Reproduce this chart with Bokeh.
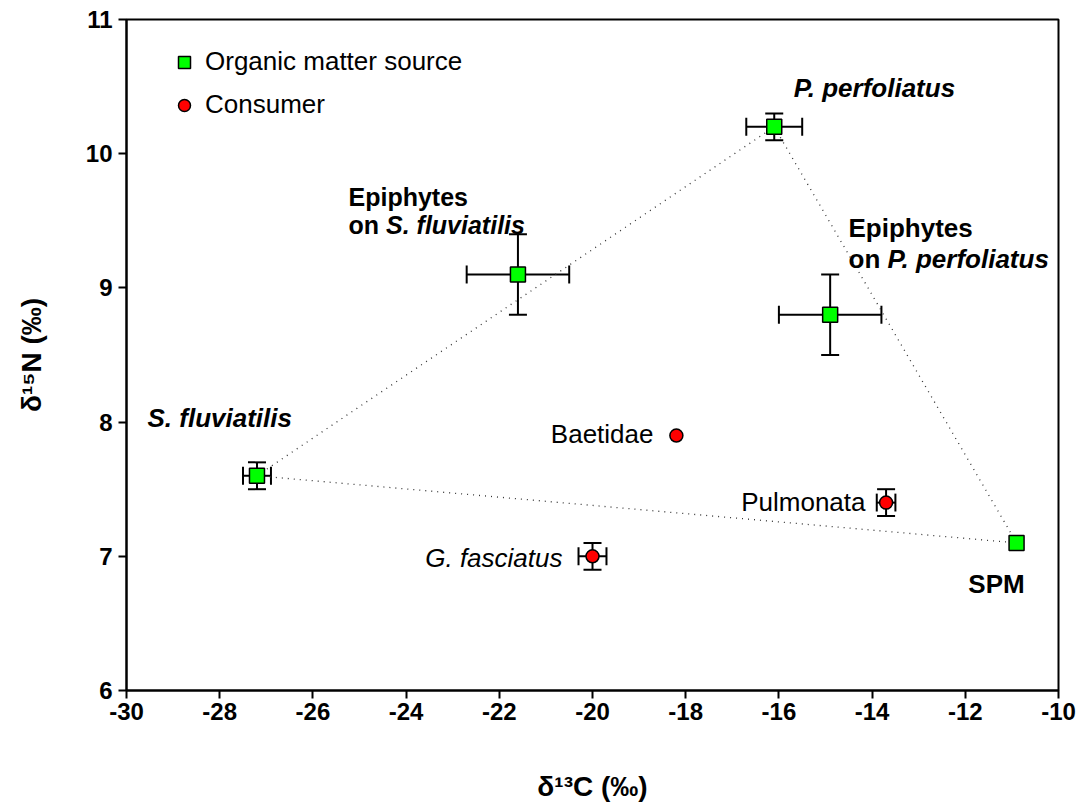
from bokeh.plotting import figure
from bokeh.models import (ColumnDataSource, Whisker, TeeHead, Label, Legend, LegendItem,
                          FixedTicker, Range1d)
from bokeh.embed import file_html
from bokeh.resources import INLINE

# ---------------- data ----------------
source_names = ["P. perfoliatus", "Epiphytes on S. fluviatilis", "Epiphytes on P. perfoliatus",
                "S. fluviatilis", "SPM"]
source_d13C = [-16.1, -21.6, -14.9, -27.2, -10.9]
source_d13C_sd = [0.6, 1.1, 1.1, 0.3, 0.0]
source_d15N = [10.2, 9.1, 8.8, 7.6, 7.1]
source_d15N_sd = [0.1, 0.3, 0.3, 0.1, 0.0]

consumer_names = ["Baetidae", "Pulmonata", "G. fasciatus"]
consumer_d13C = [-18.2, -13.7, -20.0]
consumer_d13C_sd = [0.0, 0.2, 0.3]
consumer_d15N = [7.9, 7.4, 7.0]
consumer_d15N_sd = [0.0, 0.1, 0.1]

# mixing polygon (dotted) through these sources
polygon_names = ["S. fluviatilis", "P. perfoliatus", "SPM", "S. fluviatilis"]

x_ticks = [-30, -28, -26, -24, -22, -20, -18, -16, -14, -12, -10]
x_tick_labels = ["-30", "-28", "-26", "-24", "-22", "-20", "-18", "-16", "-14", "-12", "-10"]
y_ticks = [6, 7, 8, 9, 10, 11]
y_tick_labels = ["6", "7", "8", "9", "10", "11"]

x_title = "δ¹³C (‰)"
y_title = "δ¹⁵N (‰)"

FONT = "Liberation Sans"

p = figure(width=1076, height=804, output_backend="svg", toolbar_location=None,
           x_range=Range1d(-30, -10), y_range=Range1d(6, 11),
           min_border_left=126, min_border_right=18, min_border_top=19, min_border_bottom=114)
p.background_fill_color = "white"
p.border_fill_color = "white"
p.grid.visible = False
p.outline_line_color = "black"
p.outline_line_width = 2

for ax in (p.xaxis[0], p.yaxis[0]):
    ax.axis_line_width = 2
    ax.axis_line_color = "black"
    ax.major_tick_line_width = 2
    ax.major_tick_out = 8
    ax.major_tick_in = 0
    ax.minor_tick_line_color = None
    ax.major_label_text_font = FONT
    ax.major_label_text_font_size = "24px"
    ax.major_label_text_font_style = "bold"
    ax.major_label_text_color = "black"
    ax.axis_label_text_font = FONT
    ax.axis_label_text_font_size = "28px"
    ax.axis_label_text_font_style = "bold"
    ax.axis_label_text_color = "black"
p.xaxis.ticker = FixedTicker(ticks=x_ticks)
p.yaxis.ticker = FixedTicker(ticks=y_ticks)
p.xaxis.major_label_overrides = {t: l for t, l in zip(x_ticks, x_tick_labels)}
p.yaxis.major_label_overrides = {t: l for t, l in zip(y_ticks, y_tick_labels)}
p.xaxis.major_label_standoff = 4
p.yaxis.major_label_standoff = 6
p.xaxis.axis_label = x_title
p.yaxis.axis_label = y_title
p.xaxis.axis_label_standoff = 48
p.yaxis.axis_label_standoff = 36

# dotted polygon
idx = [source_names.index(n) for n in polygon_names]
p.line([source_d13C[i] for i in idx], [source_d15N[i] for i in idx],
       line_color="#333333", line_width=1.3, line_dash="1 5")

# error bars
def add_errors(xs, ys, xsd, ysd):
    xb = [(x, y, s) for x, y, s in zip(xs, ys, xsd) if s > 0]
    yb = [(x, y, s) for x, y, s in zip(xs, ys, ysd) if s > 0]
    sx = ColumnDataSource(dict(base=[b[1] for b in xb], lo=[b[0] - b[2] for b in xb],
                               hi=[b[0] + b[2] for b in xb]))
    sy = ColumnDataSource(dict(base=[b[0] for b in yb], lo=[b[1] - b[2] for b in yb],
                               hi=[b[1] + b[2] for b in yb]))
    for src, dim in ((sx, "width"), (sy, "height")):
        w = Whisker(source=src, base="base", lower="lo", upper="hi", dimension=dim,
                    line_width=2, line_color="black", level="underlay",
                    upper_head=TeeHead(size=18, line_width=2, line_color="black"),
                    lower_head=TeeHead(size=18, line_width=2, line_color="black"))
        p.add_layout(w)

add_errors(source_d13C, source_d15N, source_d13C_sd, source_d15N_sd)
add_errors(consumer_d13C, consumer_d15N, consumer_d13C_sd, consumer_d15N_sd)

r_src = p.scatter(source_d13C, source_d15N, marker="square", size=15,
                  fill_color="#00ff00", line_color="black", line_width=1.5)
r_con = p.scatter(consumer_d13C, consumer_d15N, marker="circle", size=13,
                  fill_color="#ff0000", line_color="black", line_width=1.5)

legend = Legend(items=[LegendItem(label="Organic matter source", renderers=[r_src]),
                       LegendItem(label="Consumer", renderers=[r_con])],
                location=(33, 560), glyph_width=30, glyph_height=30, label_height=30,
                label_standoff=6, spacing=12, padding=10, margin=0,
                border_line_alpha=0, background_fill_alpha=0,
                label_text_font=FONT, label_text_font_size="26px",
                label_text_color="black")
p.add_layout(legend)

# point annotations: (text, x, y, style, align, x_offset, size)
annotations = [
    ("P. perfoliatus", -13.95, 10.486, "bold italic", "center", 0, "26px"),
    ("Epiphytes", -25.236, 9.68, "bold", "left", 0, "25px"),
    ("on ", -25.236, 9.465, "bold", "left", 0, "25px"),
    ("S. fluviatilis", -25.236, 9.465, "bold italic", "left", 37.5, "25px"),
    ("Epiphytes", -14.506, 9.443, "bold", "left", 0, "26px"),
    ("on ", -14.506, 9.219, "bold", "left", 0, "26px"),
    ("P. perfoliatus", -14.506, 9.219, "bold italic", "left", 39, "26px"),
    ("S. fluviatilis", -29.549, 8.027, "bold italic", "left", 0, "26px"),
    ("Baetidae", -18.691, 7.915, "normal", "right", 0, "26px"),
    ("Pulmonata", -14.142, 7.408, "normal", "right", 0, "26px"),
    ("G. fasciatus", -20.644, 6.991, "italic", "right", 0, "26px"),
    ("SPM", -11.33, 6.797, "bold", "center", 0, "26px"),
]
for text, x, y, style, align, xo, size in annotations:
    p.add_layout(Label(x=x, y=y, x_offset=xo, text=text, text_font=FONT, text_font_size=size,
                       text_font_style=style, text_align=align, text_baseline="middle",
                       text_color="black"))

open("out.html", "w").write(file_html(p, INLINE))
